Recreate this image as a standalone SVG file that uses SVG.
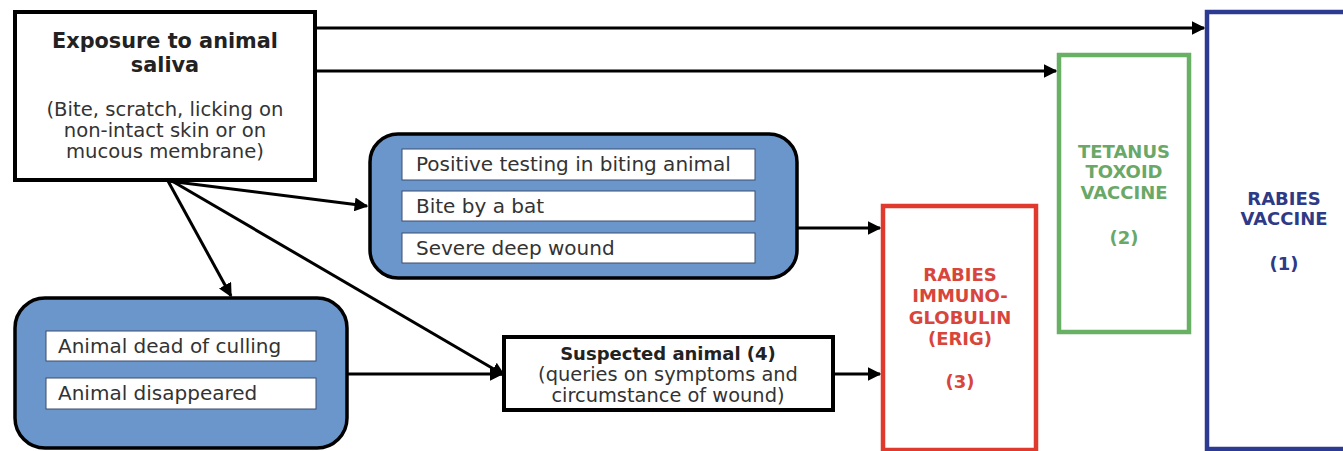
<svg xmlns="http://www.w3.org/2000/svg" width="1343" height="451" viewBox="0 0 1343 451">
  <defs>
    <marker id="arrow" viewBox="0 0 10 10" refX="9" refY="5" markerWidth="4.6" markerHeight="4.6" markerUnits="strokeWidth" orient="auto">
      <path d="M0,0 L10,5 L0,10 z" fill="#000"/>
    </marker>
    <style>
      text { font-family: "DejaVu Sans", "Liberation Sans", sans-serif; fill: #222; }
      .title { font-weight: bold; font-size: 20.8px; }
      .body { font-size: 19.6px; fill: #333; }
      .item { font-size: 20px; fill: #333; }
      .plain { fill: #fff; stroke: #000; stroke-width: 4; }
      .group { fill: #6b96cc; stroke: #000; stroke-width: 3.5; }
      .inner { fill: #fff; stroke: #3a4d6e; stroke-width: 1; }
      .link { fill: none; stroke: #000; stroke-width: 3; marker-end: url(#arrow); }
      .red { fill: #fff; stroke: #e0392e; stroke-width: 4.5; }
      .green { fill: #fff; stroke: #68b064; stroke-width: 4.5; }
      .blue { fill: #fff; stroke: #2c3a92; stroke-width: 4.5; }
      .lbl { font-weight: bold; font-size: 18px; text-anchor: middle; }
      .lbl-red { fill: #d8453b; }
      .lbl-green { fill: #6aa868; }
      .lbl-blue { fill: #2e3a86; }
    </style>
  </defs>

  <rect width="1343" height="451" fill="#fff"/>

  <!-- Connectors -->
  <g id="connectors">
    <line class="link" x1="316" y1="28" x2="1204" y2="28"/>
    <line class="link" x1="316" y1="71" x2="1056" y2="71"/>
    <line class="link" x1="168" y1="181" x2="367" y2="206"/>
    <line class="link" x1="168" y1="181" x2="231" y2="296"/>
    <line class="link" x1="172" y1="181" x2="504" y2="375"/>
    <line class="link" x1="348" y1="374" x2="502" y2="374"/>
    <line class="link" x1="798" y1="228" x2="880" y2="228"/>
    <line class="link" x1="834" y1="374" x2="880" y2="374"/>
  </g>

  <!-- Exposure source -->
  <g id="exposure">
    <rect class="plain" x="15" y="12" width="300" height="168"/>
    <text class="title" x="165" y="48" text-anchor="middle">Exposure to animal</text>
    <text class="title" x="165" y="72" text-anchor="middle">saliva</text>
    <text class="body" x="165" y="116" text-anchor="middle">(Bite, scratch, licking on</text>
    <text class="body" x="165" y="137" text-anchor="middle">non-intact skin or on</text>
    <text class="body" x="165" y="158" text-anchor="middle">mucous membrane)</text>
  </g>

  <!-- High-risk situations -->
  <g id="high-risk">
    <rect class="group" x="370" y="134" width="427" height="144" rx="28"/>
    <rect class="inner" x="402" y="149" width="353" height="31"/>
    <rect class="inner" x="402" y="191" width="353" height="30"/>
    <rect class="inner" x="402" y="233" width="353" height="30"/>
    <text class="item" x="416" y="171">Positive testing in biting animal</text>
    <text class="item" x="416" y="213">Bite by a bat</text>
    <text class="item" x="416" y="255">Severe deep wound</text>
  </g>

  <!-- Animal not available -->
  <g id="animal-unavailable">
    <rect class="group" x="15" y="298" width="332" height="150" rx="30"/>
    <rect class="inner" x="46" y="331" width="270" height="30"/>
    <rect class="inner" x="46" y="378" width="270" height="31"/>
    <text class="item" x="58" y="353">Animal dead of culling</text>
    <text class="item" x="58" y="400">Animal disappeared</text>
  </g>

  <!-- Suspected animal -->
  <g id="suspected">
    <rect class="plain" x="504" y="337" width="329" height="73"/>
    <text class="title" x="668" y="360" text-anchor="middle" style="font-size:18px">Suspected animal (4)</text>
    <text class="body" x="668" y="381" text-anchor="middle" style="font-size:19.4px">(queries on symptoms and</text>
    <text class="body" x="668" y="402" text-anchor="middle" style="font-size:19.4px">circumstance of wound)</text>
  </g>

  <!-- Rabies immunoglobulin -->
  <g id="erig">
    <rect class="red" x="883" y="206" width="153" height="244"/>
    <text class="lbl lbl-red" x="960" y="281">RABIES</text>
    <text class="lbl lbl-red" x="960" y="302">IMMUNO-</text>
    <text class="lbl lbl-red" x="960" y="324">GLOBULIN</text>
    <text class="lbl lbl-red" x="960" y="345">(ERIG)</text>
    <text class="lbl lbl-red" x="960" y="388">(3)</text>
  </g>

  <!-- Tetanus toxoid vaccine -->
  <g id="tetanus">
    <rect class="green" x="1059" y="55" width="130" height="277"/>
    <text class="lbl lbl-green" x="1124" y="158">TETANUS</text>
    <text class="lbl lbl-green" x="1124" y="178">TOXOID</text>
    <text class="lbl lbl-green" x="1124" y="199">VACCINE</text>
    <text class="lbl lbl-green" x="1124" y="244">(2)</text>
  </g>

  <!-- Rabies vaccine -->
  <g id="rabies-vaccine">
    <rect class="blue" x="1207" y="12" width="150" height="437"/>
    <text class="lbl lbl-blue" x="1284" y="205">RABIES</text>
    <text class="lbl lbl-blue" x="1284" y="225">VACCINE</text>
    <text class="lbl lbl-blue" x="1284" y="270">(1)</text>
  </g>
</svg>
